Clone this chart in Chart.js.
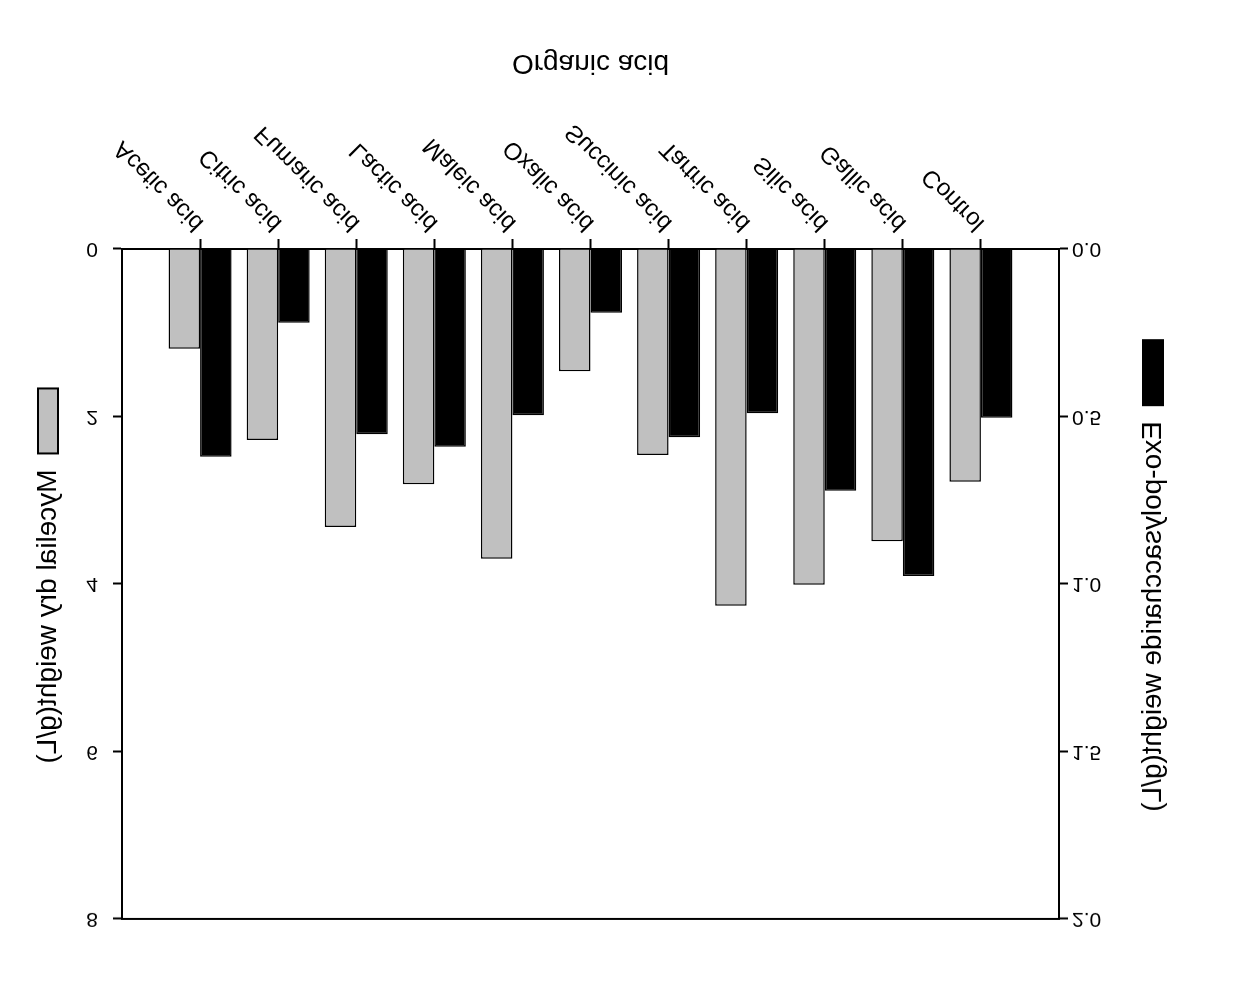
<!DOCTYPE html>
<html>
<head>
<meta charset="utf-8">
<script src="https://cdn.jsdelivr.net/npm/chart.js@4/dist/chart.umd.min.js"></script>
<style>
  body { margin: 0; background: #fff; }
  #wrap { width: 1234px; height: 994px; transform: scaleY(-1); }
</style>
</head>
<body>
<div id="wrap"><canvas id="myChart"></canvas></div>
<script>
var categories = ['Acetic acid', 'Citric acid', 'Fumaric acid', 'Lactic acid', 'Maleic acid', 'Oxalic acid',
                  'Succinic acid', 'Tartric acid', 'Silic acid', 'Gallic acid', 'Control'];
var mycelialWeight = [1.19, 2.28, 3.32, 2.81, 3.70, 1.46, 2.46, 4.26, 4.01, 3.49, 2.78];
var exoWeight = [0.62, 0.22, 0.553, 0.59, 0.496, 0.19, 0.562, 0.49, 0.722, 0.976, 0.504];
var leftTicks = [0, 2, 4, 6, 8];
var rightTicks = [0.0, 0.5, 1.0, 1.5, 2.0];

// blank slot at each end so the groups sit one step in from the axes
function pad(arr, blank) { return [blank].concat(arr, [blank]); }

Chart.defaults.font.family = "'Liberation Sans', Arial, sans-serif";
Chart.defaults.color = '#000';

// draws the legend swatch together with the rotated axis title
var axisTitles = {
    id: 'axisTitles',
    afterDraw: function(chart) {
        var ctx = chart.ctx;
        var area = chart.chartArea;
        var mid = (area.top + area.bottom) / 2 + 8;
        var ds = chart.data.datasets;
        draw(ds[0], chart.scales.y.left + 48);
        draw(ds[1], chart.scales.y1.right - 81);

        function draw(set, x) {
            ctx.save();
            ctx.font = '28px ' + Chart.defaults.font.family;
            var w = ctx.measureText(set.label).width;
            var boxH = 65, gap = 16;
            var bottom = mid + (boxH + gap + w) / 2;
            ctx.fillStyle = set.backgroundColor;
            ctx.fillRect(x - 10, bottom - boxH, 20, boxH);
            ctx.lineWidth = 2;
            ctx.strokeStyle = '#000';
            ctx.strokeRect(x - 10, bottom - boxH, 20, boxH);
            ctx.translate(x, bottom - boxH - gap);
            ctx.rotate(-Math.PI / 2);
            ctx.fillStyle = '#000';
            ctx.textAlign = 'left';
            ctx.textBaseline = 'middle';
            ctx.fillText(set.label, 0, 0);
            ctx.restore();
        }
    }
};

var ctx = document.getElementById('myChart').getContext('2d');
var myChart = new Chart(ctx, {
    type: 'bar',
    data: {
        labels: pad(categories, ''),
        datasets: [{
            label: 'Mycelial dry weight(g/L)',
            data: pad(mycelialWeight, null),
            yAxisID: 'y',
            backgroundColor: '#c0c0c0',
            borderColor: '#000',
            borderWidth: 1.5
        }, {
            label: 'Exo-polysaccharide weight(g/L)',
            data: pad(exoWeight, null),
            yAxisID: 'y1',
            backgroundColor: '#000',
            borderColor: '#000',
            borderWidth: 1.5
        }]
    },
    options: {
        responsive: true,
        maintainAspectRatio: false,
        animation: false,
        categoryPercentage: 0.807,
        barPercentage: 1,
        layout: { padding: { top: 75 } },
        plugins: {
            legend: { display: false },
            tooltip: { enabled: false }
        },
        scales: {
            x: {
                offset: false,
                grid: {
                    offset: false,
                    drawOnChartArea: false,
                    tickLength: 10,
                    tickWidth: 2,
                    tickColor: function(c) {
                        return (c.index === 0 || c.index === categories.length + 1) ? 'rgba(0,0,0,0)' : '#000';
                    }
                },
                border: { color: '#000', width: 2 },
                ticks: {
                    autoSkip: false,
                    minRotation: 45,
                    maxRotation: 45,
                    padding: 2,
                    font: { size: 24 }
                },
                title: {
                    display: true,
                    text: 'Organic acid',
                    font: { size: 28 },
                    padding: { top: 4, bottom: 46 }
                },
                afterFit: function(s) { s.height = 249; }
            },
            xTop: {
                type: 'category',
                position: 'top',
                grid: { display: false },
                ticks: { display: false },
                border: { color: '#000', width: 2 },
                afterFit: function(s) { s.height = 0; }
            },
            y: {
                position: 'left',
                min: 0,
                max: 8,
                afterBuildTicks: function(s) { s.ticks = leftTicks.map(function(v) { return { value: v }; }); },
                grid: { drawOnChartArea: false, tickLength: 9, tickWidth: 2, tickColor: '#000' },
                border: { color: '#000', width: 2 },
                ticks: { padding: 15, font: { size: 21 } },
                afterFit: function(s) { s.width = 122; }
            },
            y1: {
                position: 'right',
                min: 0,
                max: 2,
                afterBuildTicks: function(s) { s.ticks = rightTicks.map(function(v) { return { value: v }; }); },
                grid: { drawOnChartArea: false, tickLength: 9, tickWidth: 2, tickColor: '#000' },
                border: { color: '#000', width: 2 },
                ticks: {
                    padding: 4,
                    font: { size: 21 },
                    callback: function(v) { return Number(v).toFixed(1); }
                },
                afterFit: function(s) { s.width = 175; }
            }
        }
    },
    plugins: [axisTitles]
});
</script>
</body>
</html>
